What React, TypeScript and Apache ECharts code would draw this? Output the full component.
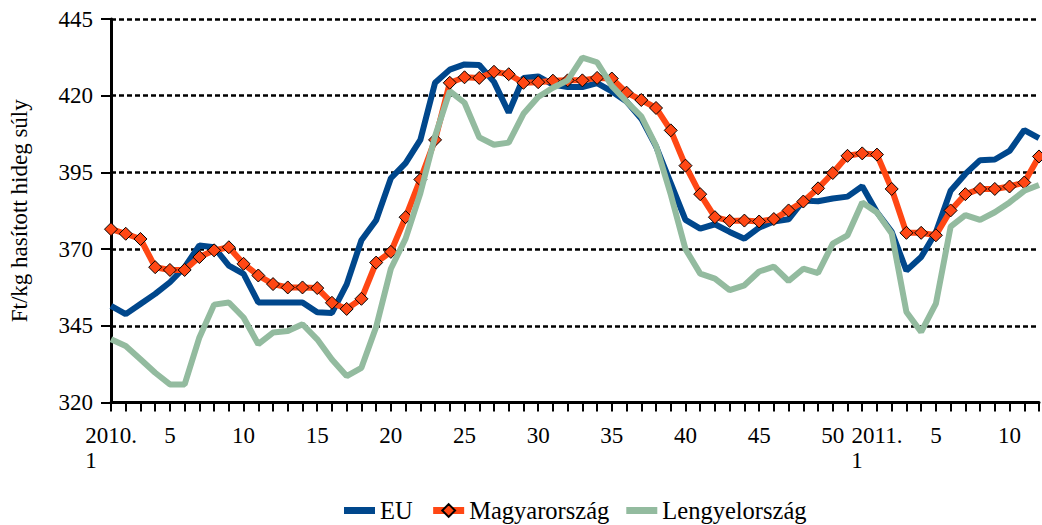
import React, { useEffect, useRef } from "react";
import * as echarts from "echarts";

const categories: string[] = [
  ...Array.from({ length: 52 }, (_, i) => `2010/${i + 1}`),
  ...Array.from({ length: 12 }, (_, i) => `2011/${i + 1}`),
];

const tickLabels: string[] = [
  "2010.|1", "", "", "", "5", "", "", "", "", "10", "", "", "", "", "15", "", "", "", "", "20",
  "", "", "", "", "25", "", "", "", "", "30", "", "", "", "", "35", "", "", "", "", "40",
  "", "", "", "", "45", "", "", "", "", "50", "", "", "2011.|1", "", "", "", "5", "", "", "",
  "", "10", "", "",
];

const euValues: number[] = [
  351.5, 348.8, 352.1, 355.4, 359.2, 364.1, 371.2, 370.6, 364.6, 361.9,
  352.6, 352.6, 352.6, 352.6, 349.4, 349.2, 358.5, 372.9, 379.4, 393.1,
  398.0, 405.6, 424.2, 428.5, 430.2, 430.0, 424.5, 414.5, 425.8, 426.3,
  423.6, 422.8, 422.8, 424.1, 421.4, 418.1, 412.5, 403.5, 391.5, 379.5,
  376.7, 378.1, 375.6, 373.4, 377.0, 379.0, 379.7, 385.8, 385.6, 386.5,
  387.1, 390.5, 382.0, 375.6, 363.0, 367.4, 375.5, 389.0, 394.5, 399.0,
  399.2, 402.0, 408.8, 406.2,
];

const huValues: number[] = [
  376.5, 375.0, 373.3, 364.1, 363.2, 363.2, 367.4, 369.6, 370.6, 365.2,
  361.4, 358.6, 357.5, 357.5, 357.3, 352.5, 350.5, 353.8, 365.6, 369.1,
  380.4, 392.7, 405.6, 424.2, 426.0, 425.8, 427.8, 427.0, 424.2, 424.4,
  424.9, 425.0, 425.0, 425.8, 425.6, 421.0, 418.6, 416.0, 408.7, 397.2,
  387.9, 380.4, 379.2, 379.3, 379.0, 379.8, 382.6, 385.5, 389.8, 394.8,
  400.4, 401.2, 400.8, 389.6, 375.3, 375.3, 374.5, 382.6, 387.9, 389.6,
  389.6, 390.4, 391.7, 400.2,
];

const plValues: number[] = [
  340.6, 338.4, 334.1, 329.7, 325.9, 325.9, 341.2, 351.9, 352.6, 347.7,
  339.0, 342.8, 343.3, 345.5, 340.6, 334.0, 328.6, 331.3, 344.6, 363.6,
  373.4, 388.2, 406.8, 421.5, 417.7, 406.4, 404.0, 404.7, 414.1, 419.6,
  422.6, 425.0, 432.4, 430.9, 423.2, 418.1, 413.3, 403.7, 387.8, 370.0,
  362.0, 360.4, 356.6, 358.2, 362.7, 364.3, 359.6, 363.6, 362.2, 371.8,
  374.5, 385.2, 381.9, 375.1, 349.5, 343.0, 352.2, 377.3, 381.1, 379.5,
  382.0, 385.2, 389.0, 390.9,
];

const seriesNames = ["EU", "Magyarország", "Lengyelország"];
const yAxisName = "Ft/kg hasított hideg súly";

const FONT = "Liberation Serif";
const BAR_ICON = "path://M0,0L0.01,0L0,0.01ZM0,4.5L31,4.5L31,11.5L0,11.5ZM31,16L30.99,16L31,15.99Z";

export default function App() {
  const ref = useRef<HTMLDivElement>(null);
  useEffect(() => {
    if (!ref.current) return;
    const chart = echarts.init(ref.current, null, { renderer: "svg" });
    chart.setOption({
      animation: false,
      backgroundColor: "#ffffff",
      textStyle: { fontFamily: FONT, color: "#000" },
      grid: { left: 111, right: 0, top: 19, bottom: 122.5, containLabel: false },
      legend: {
        left: 339,
        top: 493,
        itemWidth: 31,
        itemHeight: 16,
        itemGap: 17,
        textStyle: { fontFamily: FONT, fontSize: 24.5, color: "#000" },
        data: [
          { name: seriesNames[0], icon: BAR_ICON },
          { name: seriesNames[1], lineStyle: { width: 7 } },
          { name: seriesNames[2], icon: BAR_ICON },
        ],
      },
      xAxis: {
        type: "category",
        boundaryGap: false,
        data: categories,
        axisLine: { lineStyle: { color: "#000", width: 3 } },
        axisTick: { show: true, interval: 0, length: 9, lineStyle: { color: "#000", width: 2 } },
        axisLabel: {
          interval: 0,
          margin: 20,
          fontFamily: FONT,
          fontSize: 23,
          color: "#000",
          lineHeight: 25,
          formatter: (_v: string, idx: number) => {
            const t = tickLabels[idx] || "";
            if (t.indexOf("|") >= 0) {
              const [a, b] = t.split("|");
              return `{a|${a}}\n{b|${b}}`;
            }
            return t;
          },
          rich: {
            a: { fontFamily: FONT, fontSize: 23, color: "#000", lineHeight: 25 },
            b: { fontFamily: FONT, fontSize: 23, color: "#000", lineHeight: 25, padding: [0, 40, 0, 0] },
          },
        },
        splitLine: { show: false },
      },
      yAxis: {
        type: "value",
        min: 320,
        max: 445,
        interval: 25,
        name: yAxisName,
        nameLocation: "middle",
        nameGap: 80,
        nameRotate: 90,
        nameTextStyle: { fontFamily: FONT, fontSize: 23, color: "#000" },
        axisLine: { show: true, lineStyle: { color: "#000", width: 3 } },
        axisTick: { show: true, length: 10, lineStyle: { color: "#000", width: 2 } },
        axisLabel: { margin: 18, fontFamily: FONT, fontSize: 23, color: "#000" },
        splitLine: { show: true, lineStyle: { color: "#000", width: 2.5, type: [5, 3] } },
      },
      series: [
        {
          name: seriesNames[0],
          type: "line",
          data: euValues,
          symbol: "none",
          z: 2,
          lineStyle: { color: "#00478C", width: 6 },
          itemStyle: { color: "#00478C" },
        },
        {
          name: seriesNames[1],
          type: "line",
          data: huValues,
          symbol: "diamond",
          symbolSize: 13,
          showSymbol: true,
          z: 3,
          lineStyle: { color: "#FF4714", width: 6 },
          itemStyle: { color: "#FF4714", borderColor: "#000", borderWidth: 1 },
        },
        {
          name: seriesNames[2],
          type: "line",
          data: plValues,
          symbol: "none",
          z: 4,
          lineStyle: { color: "#93BB9F", width: 6 },
          itemStyle: { color: "#93BB9F" },
        },
      ],
    });
    return () => chart.dispose();
  }, []);
  return (
    <div
      ref={ref}
      style={{ position: "absolute", left: 0, top: 0, width: 1042, height: 525 }}
    />
  );
}
